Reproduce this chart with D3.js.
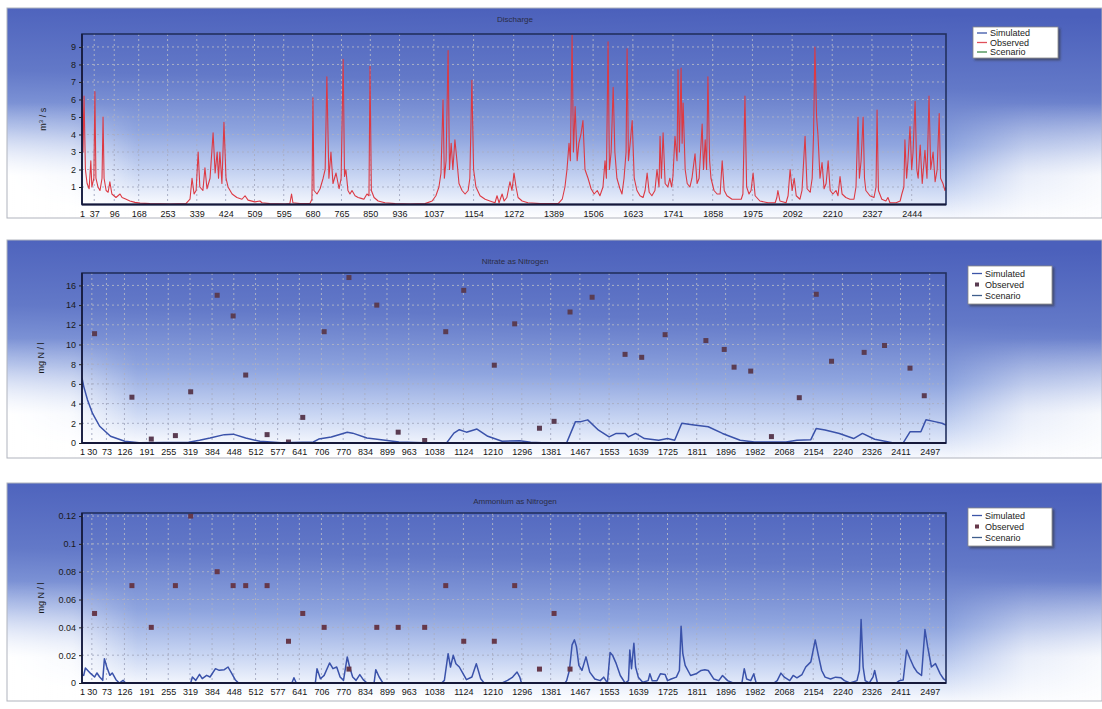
<!DOCTYPE html>
<html><head><meta charset="utf-8">
<script src="https://cdn.jsdelivr.net/npm/d3@7"></script>
<style>body{margin:0;background:#fff;} svg{display:block;font-family:"Liberation Sans",Arial,sans-serif;}</style>
</head><body><svg id="c" width="1102" height="709"></svg>
<script>
// ---------- DATA ----------
const dischargeTicks = [1,37,96,168,253,339,424,509,595,680,765,850,936,1037,1154,1272,1389,1506,1623,1741,1858,1975,2092,2210,2327,2444];
const nutrientTicks = [1,30,73,126,191,255,319,384,448,512,577,641,706,770,834,899,963,1038,1124,1210,1296,1381,1467,1553,1639,1725,1811,1896,1982,2068,2154,2240,2326,2411,2497];
const dischargeYTicks = [1,2,3,4,5,6,7,8,9];
const nitrateYTicks = [0,2,4,6,8,10,12,14,16];
const ammoniumYTicks = [0,0.02,0.04,0.06,0.08,0.1,0.12];
const legendLabels = ["Simulated","Observed","Scenario"];
const panelTitles = ["Discharge","Nitrate as Nitrogen","Ammonium as Nitrogen"];

// observed discharge [day, m3/s]
const dischargeObserved = [[1,8.1],[4,3.0],[7,6.2],[11,2.0],[16,1.2],[22,0.9],[27,2.5],[30,1.0],[36,1.5],[39,6.45],[42,1.5],[48,1.0],[54,0.8],[60,1.5],[63,5.0],[66,1.5],[72,0.8],[78,0.7],[83,1.3],[89,0.6],[101,0.4],[113,0.6],[119,0.4],[131,0.3],[142,0.2],[157,0.12],[172,0.08],[201,0.05],[260,0.03],[307,0.05],[319,0.3],[325,1.5],[331,0.6],[337,0.8],[343,3.0],[348,1.0],[357,0.8],[363,2.1],[369,0.9],[378,1.5],[387,4.1],[393,1.8],[399,3.0],[403,1.5],[407,3.0],[413,1.2],[419,4.7],[425,1.5],[431,1.0],[443,0.6],[457,0.4],[472,0.3],[481,0.5],[490,0.25],[510,0.15],[525,0.2],[531,0.1],[554,0.05],[599,0.02],[613,0.05],[618,0.6],[622,0.1],[643,0.05],[672,0.05],[678,0.3],[681,6.1],[684,0.8],[693,0.6],[702,0.9],[711,1.5],[717,2.0],[722,7.3],[728,1.5],[734,3.0],[740,1.2],[749,1.8],[758,0.9],[764,1.5],[770,8.3],[774,1.6],[778,2.0],[784,0.8],[790,0.6],[796,0.8],[805,0.5],[814,0.4],[823,0.35],[831,0.3],[840,0.6],[846,0.5],[849,7.9],[853,0.8],[861,0.4],[873,0.2],[893,0.1],[923,0.05],[967,0.03],[1011,0.05],[1032,0.2],[1043,0.5],[1052,1.0],[1058,1.8],[1064,6.0],[1068,1.5],[1073,2.5],[1079,8.8],[1083,2.0],[1088,3.5],[1093,2.0],[1099,3.7],[1105,2.5],[1111,1.2],[1120,0.8],[1129,0.6],[1138,0.8],[1143,1.5],[1149,7.1],[1154,2.0],[1161,1.0],[1173,0.5],[1188,0.3],[1202,0.2],[1217,0.1],[1223,0.5],[1229,0.1],[1238,0.6],[1244,0.2],[1252,0.4],[1261,1.3],[1267,0.8],[1273,1.8],[1279,1.0],[1285,0.4],[1297,0.2],[1314,0.1],[1350,0.05],[1403,0.05],[1415,0.3],[1423,1.0],[1429,2.0],[1435,3.5],[1439,2.5],[1444,9.7],[1448,3.0],[1453,5.6],[1459,2.5],[1464,3.5],[1470,4.0],[1476,4.8],[1482,2.0],[1491,1.5],[1500,0.9],[1509,0.6],[1518,0.8],[1526,0.5],[1535,1.0],[1541,2.5],[1545,1.5],[1550,9.3],[1554,2.0],[1559,3.0],[1565,6.7],[1570,3.0],[1576,1.5],[1585,0.9],[1591,0.6],[1597,1.5],[1603,3.0],[1606,8.9],[1610,2.5],[1615,3.5],[1621,4.8],[1627,1.5],[1635,0.8],[1644,0.5],[1653,0.4],[1659,0.8],[1665,1.8],[1671,0.7],[1679,0.5],[1688,0.8],[1694,2.0],[1700,1.0],[1703,3.9],[1707,1.5],[1712,4.1],[1718,1.2],[1726,1.0],[1732,1.5],[1737,1.0],[1741,1.6],[1747,3.9],[1753,2.5],[1756,7.7],[1760,3.0],[1765,7.8],[1768,3.5],[1771,5.8],[1777,2.0],[1783,1.2],[1791,1.0],[1797,1.5],[1806,2.9],[1812,1.2],[1818,1.5],[1827,4.6],[1831,2.0],[1836,3.7],[1840,2.0],[1844,7.3],[1849,2.5],[1853,1.5],[1862,0.8],[1871,0.6],[1880,0.6],[1886,2.5],[1892,0.8],[1900,0.5],[1915,0.3],[1930,0.3],[1942,0.3],[1947,0.6],[1953,6.2],[1958,1.0],[1965,0.6],[1971,0.8],[1977,1.8],[1983,0.5],[1997,0.2],[2021,0.1],[2042,0.1],[2047,0.4],[2050,0.8],[2056,0.2],[2074,0.1],[2080,0.5],[2086,2.0],[2092,0.8],[2098,1.5],[2104,0.5],[2115,0.3],[2121,0.8],[2130,3.9],[2136,0.9],[2145,0.7],[2151,1.5],[2155,4.0],[2159,9.0],[2164,5.0],[2168,4.0],[2174,1.5],[2180,2.4],[2186,0.9],[2192,1.2],[2198,2.5],[2204,0.8],[2212,0.6],[2221,0.8],[2227,0.5],[2233,1.6],[2239,0.6],[2250,0.4],[2262,0.3],[2274,0.3],[2280,1.0],[2286,5.0],[2290,1.5],[2295,2.5],[2301,5.0],[2305,1.5],[2309,0.8],[2321,0.5],[2333,0.4],[2339,1.0],[2342,5.4],[2346,0.8],[2356,0.3],[2368,0.2],[2374,0.4],[2380,0.1],[2398,0.1],[2410,0.2],[2415,0.6],[2421,1.0],[2424,3.7],[2429,1.5],[2433,2.5],[2439,4.45],[2444,2.0],[2448,3.0],[2454,5.9],[2459,2.0],[2463,1.5],[2469,3.4],[2475,1.2],[2483,3.1],[2489,1.5],[2495,6.2],[2500,2.0],[2507,3.0],[2513,1.3],[2519,2.0],[2525,5.2],[2529,1.5],[2536,1.2],[2542,0.8],[2545,1.0]];

// sample days of observations (shared by nitrate and ammonium)
const sampleDays = [38,148,205,276,321,399,446,483,546,609,651,714,787,869,932,1010,1072,1125,1215,1275,1348,1391,1438,1503,1600,1649,1718,1838,1892,1921,1970,2031,2113,2163,2208,2304,2364,2439,2481];
const nitrateObserved = [11.1,4.65,0.4,0.75,5.2,15.0,12.9,6.9,0.85,0.1,2.6,11.3,16.8,14.0,1.1,0.25,11.3,15.5,7.9,12.1,1.5,2.2,13.3,14.8,9.0,8.7,11.0,10.4,9.5,7.7,7.3,0.65,4.6,15.1,8.3,9.2,9.9,7.6,4.8];
const ammoniumObserved = [0.05,0.07,0.04,0.07,0.12,0.08,0.07,0.07,0.07,0.03,0.05,0.04,0.01,0.04,0.04,0.04,0.07,0.03,0.03,0.07,0.01,0.05,0.01];

// simulated nitrate [day, mg N/l]
const nitrateSimulated = [[1,6.6],[6,5.75],[17,4.4],[32,3.0],[53,1.7],[85,0.68],[127,0.17],[169,0.02],[315,0.07],[347,0.27],[378,0.5],[420,0.85],[446,0.9],[483,0.5],[525,0.17],[588,0.02],[682,0.1],[698,0.4],[735,0.6],[782,1.1],[798,1.0],[840,0.5],[882,0.34],[934,0.1],[1007,0.02],[1075,0.03],[1096,1.0],[1112,1.35],[1133,1.1],[1164,1.42],[1196,0.68],[1238,0.17],[1290,0.24],[1322,0.07],[1355,0.02],[1428,0.02],[1454,2.17],[1470,2.17],[1490,2.35],[1522,1.3],[1553,0.62],[1574,0.97],[1600,0.97],[1610,0.62],[1631,0.97],[1657,0.45],[1699,0.28],[1725,0.45],[1746,0.28],[1767,2.0],[1803,1.83],[1845,1.65],[1887,0.97],[1939,0.28],[1981,0.1],[2033,0.1],[2074,0.1],[2106,0.28],[2147,0.34],[2163,1.48],[2189,1.31],[2231,0.97],[2273,0.45],[2299,0.97],[2335,0.38],[2387,0.03],[2419,0.02],[2439,1.14],[2471,1.14],[2486,2.35],[2512,2.17],[2533,2.0],[2545,1.83]];

// simulated ammonium [day, mg N/l]
const ammoniumSimulated = [[1,0.006],[6,0.0055],[11,0.0108],[27,0.0067],[38,0.0043],[45,0.0072],[53,0.0043],[62,0.0019],[67,0.0175],[74,0.0115],[83,0.0055],[90,0.0072],[101,0.0024],[111,0],[122,0.0019],[129,0],[321,0],[326,0.0043],[336,0.0019],[347,0.0062],[355,0.0031],[368,0.0055],[378,0.0043],[394,0.0103],[405,0.0091],[420,0.0096],[431,0.0115],[441,0.0072],[452,0.0024],[462,0],[619,0],[625,0.0038],[632,0],[688,0],[693,0.0103],[703,0.0031],[714,0.0055],[730,0.0144],[740,0.0103],[751,0.0115],[761,0.0043],[771,0.0019],[782,0.0187],[789,0.0115],[798,0.0043],[808,0.0019],[819,0.006],[829,0.0024],[840,0],[861,0],[866,0.0096],[876,0.0043],[887,0],[1060,0],[1068,0.0019],[1079,0.0211],[1086,0.0115],[1094,0.0199],[1102,0.0139],[1112,0.0115],[1123,0.0067],[1133,0.0024],[1149,0.0043],[1162,0.0139],[1175,0.0031],[1185,0],[1238,0],[1254,0.0019],[1269,0.0043],[1282,0.0079],[1290,0.0043],[1295,0],[1423,0],[1428,0.0017],[1436,0.009],[1444,0.0274],[1451,0.031],[1457,0.026],[1464,0.0127],[1473,0.009],[1485,0.0188],[1496,0.0078],[1511,0.0029],[1527,0.0017],[1537,0.0042],[1548,0],[1556,0.022],[1563,0.02],[1574,0.0139],[1586,0.0054],[1600,0],[1610,0.0017],[1614,0.0237],[1619,0.0103],[1626,0.0286],[1631,0.0115],[1639,0.0042],[1652,0.0005],[1668,0.0017],[1673,0.0066],[1680,0.0017],[1694,0.0017],[1704,0.0066],[1718,0.0061],[1725,0.0017],[1736,0.0029],[1751,0.0042],[1760,0.009],[1765,0.0408],[1770,0.0213],[1777,0.0127],[1793,0.0054],[1809,0.0066],[1824,0.009],[1835,0.0095],[1845,0.009],[1861,0.0029],[1876,0.0017],[1887,0.0054],[1902,0.0017],[1918,0],[1944,0],[1951,0.0103],[1958,0.0029],[1970,0.0017],[1979,0.0066],[1986,0],[2038,0],[2048,0.0017],[2059,0.0071],[2069,0.0042],[2085,0.0017],[2095,0.0054],[2106,0.0037],[2121,0.0061],[2132,0.0115],[2147,0.0152],[2160,0.031],[2168,0.0213],[2179,0.009],[2189,0.0042],[2205,0.0029],[2220,0.0042],[2236,0.0037],[2246,0.0017],[2262,0],[2283,0.0017],[2290,0.009],[2295,0.0457],[2301,0.0115],[2307,0.0017],[2319,0],[2330,0.0042],[2335,0.009],[2343,0],[2398,0],[2408,0.0017],[2419,0.0022],[2429,0.0237],[2439,0.0176],[2450,0.0115],[2460,0.0078],[2473,0.0054],[2483,0.0384],[2491,0.0261],[2502,0.0115],[2514,0.0139],[2528,0.0066],[2538,0.0029],[2545,0.0017]];

// ---------- DRAW ----------
const svg = d3.select("#c");
const defs = svg.append("defs");
const grad = defs.append("linearGradient").attr("id","bg").attr("x1","0.55").attr("y1","0").attr("x2","0.45").attr("y2","1");
[[0,"#4b60bb"],[0.35,"#6379c8"],[0.62,"#8fa5df"],[0.82,"#c9d6f3"],[0.95,"#f3f6fd"],[1,"#ffffff"]].forEach(s=>grad.append("stop").attr("offset",s[0]).attr("stop-color",s[1]));
// horizontal whitening at the lower left / right edges
const hgrad = defs.append("linearGradient").attr("id","hw").attr("x1","0").attr("y1","0").attr("x2","1").attr("y2","0");
[[0,1],[0.06,0.85],[0.12,0],[0.86,0],[0.93,0.7],[1,0.9]].forEach(s=>hgrad.append("stop").attr("offset",s[0]).attr("stop-color","#ffffff").attr("stop-opacity",s[1]));
const vgrad = defs.append("linearGradient").attr("id","vm").attr("x1","0").attr("y1","0").attr("x2","0").attr("y2","1");
[[0,"#000"],[0.45,"#000"],[0.8,"#fff"],[1,"#fff"]].forEach(s=>vgrad.append("stop").attr("offset",s[0]).attr("stop-color",s[1]));
defs.append("mask").attr("id","lowmask").attr("maskContentUnits","objectBoundingBox")
  .append("rect").attr("x",0).attr("y",0).attr("width",1).attr("height",1).attr("fill","url(#vm)");
const shadow = defs.append("filter").attr("id","sh").attr("x","-20%").attr("y","-20%").attr("width","150%").attr("height","160%");
shadow.append("feDropShadow").attr("dx",2).attr("dy",2).attr("stdDeviation",0.8).attr("flood-color","#333").attr("flood-opacity",0.55);

const X0 = 82, X1 = 946;
const fmt = d => String(+(+d).toFixed(2));

function panel(cfg, idx){
  const g = svg.append("g");
  g.append("rect").attr("x",7).attr("y",cfg.top).attr("width",1095).attr("height",cfg.h)
    .attr("fill","url(#bg)");
  g.append("rect").attr("x",7).attr("y",cfg.top).attr("width",1095).attr("height",cfg.h)
    .attr("fill","url(#hw)").attr("mask","url(#lowmask)");
  g.append("rect").attr("x",7).attr("y",cfg.top).attr("width",1095).attr("height",cfg.h)
    .attr("fill","none").attr("stroke","#b0b3bd").attr("stroke-width",1);
  const x = d3.scaleLinear().domain([1,2545]).range([X0,X1]);
  const y = d3.scaleLinear().domain([0,cfg.ymax]).range([cfg.pb,cfg.pt]);
  // grid
  g.append("g").selectAll("line").data(cfg.yTicks.filter(v=>v>0)).join("line")
    .attr("x1",X0).attr("x2",X1).attr("y1",d=>y(d)).attr("y2",d=>y(d))
    .attr("stroke","#a9afc6").attr("stroke-width",1).attr("stroke-dasharray","2,3");
  g.append("g").selectAll("line").data(cfg.xTicks.slice(1)).join("line")
    .attr("x1",d=>x(d)).attr("x2",d=>x(d)).attr("y1",cfg.pt).attr("y2",cfg.pb)
    .attr("stroke","#a9afc6").attr("stroke-width",1).attr("stroke-dasharray","2,3");
  // clip
  const cid = "clip"+idx;
  defs.append("clipPath").attr("id",cid).append("rect").attr("x",X0).attr("y",cfg.pt-2).attr("width",X1-X0).attr("height",cfg.pb-cfg.pt+2);
  const line = d3.line().x(d=>x(d[0])).y(d=>y(d[1]));
  const plot = g.append("g").attr("clip-path",`url(#${cid})`);
  if(cfg.lineData) plot.append("path").datum(cfg.lineData).attr("d",line).attr("fill","none")
      .attr("stroke",cfg.lineColor).attr("stroke-width",cfg.lineWidth).attr("stroke-linejoin","round");
  if(cfg.points) plot.append("g").selectAll("rect").data(cfg.points).join("rect")
      .attr("x",d=>x(d[0])-2.5).attr("y",d=>y(d[1])-2.5).attr("width",5).attr("height",5)
      .attr("fill",cfg.pointColor);
  // frame
  g.append("rect").attr("x",X0).attr("y",cfg.pt).attr("width",X1-X0).attr("height",cfg.pb-cfg.pt)
    .attr("fill","none").attr("stroke","#22305e").attr("stroke-width",1.6);
  g.append("line").attr("x1",X0).attr("x2",X1).attr("y1",cfg.pb).attr("y2",cfg.pb).attr("stroke","#15183a").attr("stroke-width",2);
  g.append("line").attr("x1",X0).attr("x2",X0).attr("y1",cfg.pt).attr("y2",cfg.pb).attr("stroke","#15183a").attr("stroke-width",1.6);
  // axes
  const ax = g.append("g").attr("transform",`translate(0,${cfg.pb})`)
    .call(d3.axisBottom(x).tickValues(cfg.xTicks).tickSize(0).tickPadding(6).tickFormat(d=>d));
  ax.select(".domain").remove();
  ax.selectAll("text").attr("font-size",cfg.xFont).attr("fill","#151515").attr("font-family","Liberation Sans, Arial, sans-serif");
  const ay = g.append("g").attr("transform",`translate(${X0},0)`)
    .call(d3.axisLeft(y).tickValues(cfg.yTicks).tickSize(3).tickPadding(3).tickFormat(fmt));
  ay.select(".domain").remove();
  ay.selectAll("line").attr("stroke","#222");
  ay.selectAll("text").attr("font-size",9).attr("fill","#1a1a1a").attr("font-family","Liberation Sans, Arial, sans-serif");
  // titles
  g.append("text").attr("x",515).attr("y",cfg.titleY).attr("text-anchor","middle").attr("font-size",8)
    .attr("fill","#2b2d45").text(panelTitles[idx]);
  g.append("text").attr("transform",`translate(${cfg.ytX},${(cfg.pt+cfg.pb)/2}) rotate(-90)`).attr("text-anchor","middle")
    .attr("font-size",9).attr("fill","#1a1a1a").html(cfg.yTitle);
  // legend
  const L = g.append("g").attr("transform",`translate(${cfg.lx},${cfg.ly})`);
  L.append("rect").attr("width",cfg.lw).attr("height",cfg.lh).attr("fill","#fff").attr("stroke","#888").attr("stroke-width",0.8).attr("filter","url(#sh)");
  legendLabels.forEach((lab,i)=>{
    const yy = cfg.lrow0 + i*cfg.lstep;
    const m = cfg.legendMarks[i];
    if(m.type==="line") L.append("line").attr("x1",4).attr("x2",14).attr("y1",yy).attr("y2",yy).attr("stroke",m.color).attr("stroke-width",1.3);
    else L.append("rect").attr("x",7).attr("y",yy-2).attr("width",4).attr("height",4).attr("fill",m.color);
    L.append("text").attr("x",17).attr("y",yy+3.2).attr("font-size",9).attr("fill","#222").text(lab);
  });
}

const obsNitrate = sampleDays.map((d,i)=>[d,nitrateObserved[i]]);
const obsAmm = ammoniumObserved.map((v,i)=>[sampleDays[i],v]);

panel({top:8,h:210,pt:34,pb:204.5,ymax:9.74,yTicks:dischargeYTicks,xTicks:dischargeTicks,xFont:9,
  lineData:dischargeObserved,lineColor:"#dc3a44",lineWidth:1.1,titleY:22,ytX:46,
  yTitle:'m<tspan baseline-shift="super" font-size="6">3</tspan> / s',
  lx:973,ly:27,lw:85,lh:31,lrow0:6,lstep:9.5,
  legendMarks:[{type:"line",color:"#3c55a8"},{type:"line",color:"#e0505a"},{type:"line",color:"#3d8a4a"}]},0);

panel({top:240,h:218,pt:273,pb:443,ymax:17.26,yTicks:nitrateYTicks,xTicks:nutrientTicks,xFont:9,
  lineData:nitrateSimulated,lineColor:"#3a52aa",lineWidth:1.5,points:obsNitrate,pointColor:"#5a3c52",titleY:264,ytX:44,
  yTitle:'mg N / l',
  lx:968,ly:266,lw:84,lh:38,lrow0:7.5,lstep:11,
  legendMarks:[{type:"line",color:"#3c55a8"},{type:"pt",color:"#5a3c52"},{type:"line",color:"#3f5e8c"}]},1);

panel({top:483,h:218,pt:513,pb:683,ymax:0.1222,yTicks:ammoniumYTicks,xTicks:nutrientTicks,xFont:9,
  lineData:ammoniumSimulated,lineColor:"#3a52aa",lineWidth:1.5,points:obsAmm,pointColor:"#66384a",titleY:504,ytX:44,
  yTitle:'mg N / l',
  lx:968,ly:508,lw:84,lh:38,lrow0:7.5,lstep:11,
  legendMarks:[{type:"line",color:"#3c55a8"},{type:"pt",color:"#66384a"},{type:"line",color:"#3f5e8c"}]},2);
</script></body></html>
